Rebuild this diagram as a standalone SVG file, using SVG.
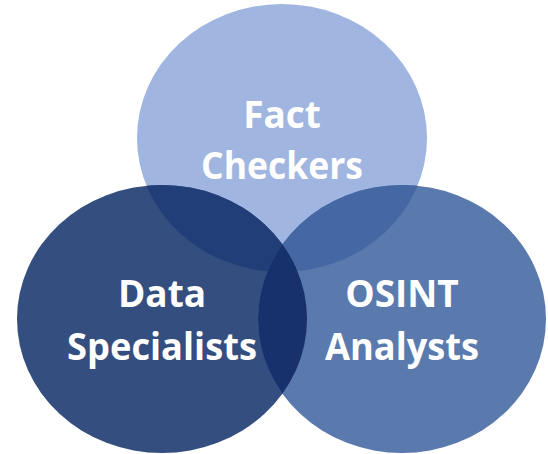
<svg xmlns="http://www.w3.org/2000/svg" width="548" height="454" viewBox="0 0 548 454">
  <style>
    .lbl { font-family: "Open Sans", "Liberation Sans", sans-serif; font-weight: 700; font-size: 37px; fill: #ffffff; text-anchor: middle; }
  </style>
  <defs>
    <ellipse id="eTop" cx="282" cy="138" rx="145" ry="134"/>
    <ellipse id="eLeft" cx="162" cy="319" rx="145" ry="134"/>
    <ellipse id="eRight" cx="402" cy="319" rx="144" ry="134"/>
    <clipPath id="cTop"><use href="#eTop"/></clipPath>
    <clipPath id="cLeft"><use href="#eLeft"/></clipPath>
    <clipPath id="cRight"><use href="#eRight"/></clipPath>
  </defs>
  <rect width="548" height="454" fill="#ffffff"/>
  <g id="fact-checkers">
    <use href="#eTop" fill="#A0B6E0"/>
  </g>
  <g id="data-specialists">
    <use href="#eLeft" fill="#334E7F"/>
  </g>
  <g id="osint-analysts">
    <use href="#eRight" fill="#5A7AAE"/>
  </g>
  <g id="overlaps">
    <g clip-path="url(#cTop)"><use href="#eLeft" fill="#223E78"/></g>
    <g clip-path="url(#cTop)"><use href="#eRight" fill="#4567A3"/></g>
    <g clip-path="url(#cLeft)"><use href="#eRight" fill="#16316C"/></g>
  </g>
  <g id="labels">
    <text class="lbl" x="282" y="128">Fact</text>
    <text class="lbl" x="282" y="179" textLength="162" lengthAdjust="spacingAndGlyphs">Checkers</text>
    <text class="lbl" x="162" y="307">Data</text>
    <text class="lbl" x="162" y="360" textLength="190" lengthAdjust="spacingAndGlyphs">Specialists</text>
    <text class="lbl" x="402" y="307">OSINT</text>
    <text class="lbl" x="402" y="360" textLength="154" lengthAdjust="spacingAndGlyphs">Analysts</text>
  </g>
</svg>
